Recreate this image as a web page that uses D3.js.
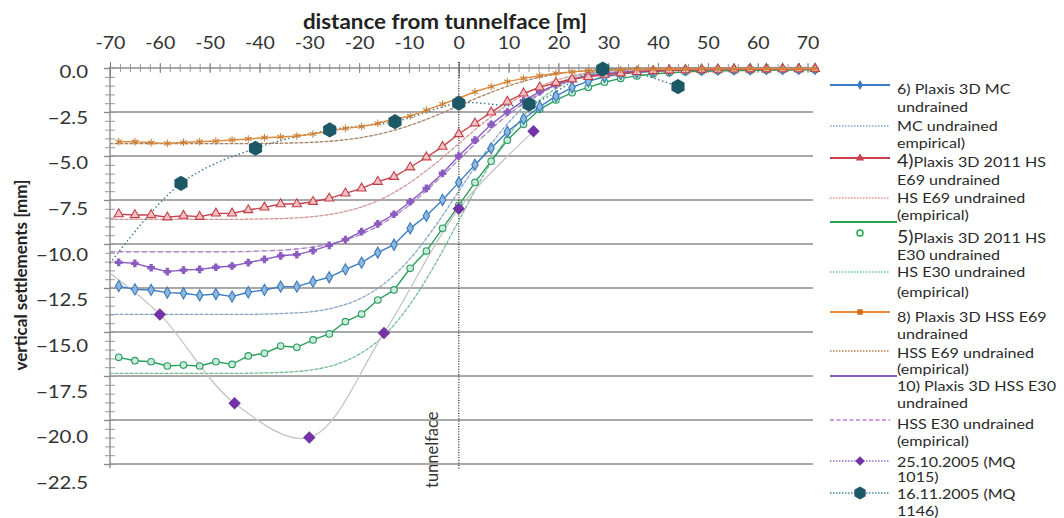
<!DOCTYPE html>
<html><head><meta charset="utf-8">
<script src="https://cdn.jsdelivr.net/npm/d3@7"></script>
<style>body{margin:0;background:#fff;} svg{display:block;font-family:Lato,"Open Sans",sans-serif;}</style>
</head><body><svg id="c" width="1064" height="518"></svg>
<script>
// ---------------- DATA ----------------
const xTickLabels = [-70,-60,-50,-40,-30,-20,-10,0,10,20,30,40,50,60,70];
const yTickLabels = [0,-2.5,-5,-7.5,-10,-12.5,-15,-17.5,-20,-22.5];

const modelX = [-68.25,-65,-61.75,-58.5,-55.25,-52,-48.75,-45.5,-42.25,-39,-35.75,-32.5,-29.25,-26,-22.75,-19.5,-16.25,-13,-9.75,-6.5,-3.25,0,3.25,6.5,9.75,13,16.25,19.5,22.75,26,29.25,32.5,35.75,39,42.25,45.5,48.75,52,55.25,58.5,61.75,65,68.25,71.5];
const mcUndrained = [-12.39,-12.58,-12.61,-12.76,-12.8,-12.92,-12.84,-12.99,-12.74,-12.61,-12.42,-12.42,-12.14,-11.89,-11.44,-11.06,-10.49,-10.04,-9.11,-8.4,-7.5,-6.5,-5.5,-4.56,-3.62,-2.9,-2.2,-1.6,-1.1,-0.75,-0.5,-0.35,-0.25,-0.2,-0.15,-0.12,-0.1,-0.09,-0.08,-0.07,-0.06,-0.06,-0.05,-0.05];
const hsE69 = [-8.3,-8.35,-8.35,-8.48,-8.39,-8.45,-8.26,-8.26,-8.07,-7.92,-7.73,-7.73,-7.6,-7.41,-7.12,-6.84,-6.46,-6.18,-5.64,-5.07,-4.47,-3.75,-3.14,-2.52,-1.91,-1.44,-1.1,-0.84,-0.64,-0.5,-0.38,-0.3,-0.22,-0.17,-0.14,-0.12,-0.1,-0.09,-0.08,-0.07,-0.07,-0.06,-0.06,-0.05];
const hsE30 = [-16.44,-16.63,-16.69,-16.93,-16.88,-16.93,-16.69,-16.84,-16.36,-16.21,-15.8,-15.87,-15.45,-15.11,-14.41,-13.98,-13.18,-12.61,-11.38,-10.4,-9.11,-7.8,-6.5,-5.3,-4.1,-3.2,-2.35,-1.82,-1.4,-1.1,-0.81,-0.59,-0.45,-0.34,-0.27,-0.22,-0.19,-0.17,-0.15,-0.14,-0.13,-0.12,-0.11,-0.1];
const hssE69 = [-4.19,-4.19,-4.24,-4.28,-4.22,-4.19,-4.15,-4.09,-4.03,-3.96,-3.92,-3.86,-3.75,-3.58,-3.43,-3.33,-3.14,-2.91,-2.73,-2.39,-2.05,-1.72,-1.35,-1.06,-0.78,-0.59,-0.44,-0.3,-0.22,-0.16,-0.12,-0.1,-0.08,-0.07,-0.06,-0.06,-0.05,-0.05,-0.05,-0.04,-0.04,-0.04,-0.04,-0.04];
const hssE30 = [-11.04,-11.1,-11.35,-11.57,-11.48,-11.44,-11.32,-11.25,-11.06,-10.87,-10.67,-10.6,-10.38,-10.08,-9.75,-9.3,-8.86,-8.31,-7.6,-6.84,-5.98,-5.0,-4.1,-3.2,-2.5,-1.85,-1.35,-0.95,-0.65,-0.45,-0.32,-0.24,-0.18,-0.15,-0.13,-0.11,-0.1,-0.09,-0.08,-0.08,-0.07,-0.07,-0.06,-0.06];

const empX = [-70,-65,-60,-55,-50,-45,-40,-35,-30,-25,-20,-15,-10,-5,0,5,10,15,20,25,30,35,40,45,50,55,60,65,70];
const mcEmp = [-14,-14,-14,-14,-14,-14,-13.99,-13.94,-13.86,-13.62,-13.13,-12.26,-10.91,-9.1,-7.0,-4.9,-3.09,-1.74,-0.87,-0.38,-0.14,-0.06,-0.01,0,0,0,0,0,0];
const hsE69Emp = [-8.6,-8.6,-8.6,-8.6,-8.6,-8.6,-8.58,-8.55,-8.46,-8.28,-7.94,-7.38,-6.55,-5.5,-4.3,-3.1,-2.05,-1.22,-0.66,-0.32,-0.14,-0.05,-0.02,0,0,0,0,0,0];
const hsE30Emp = [-17.35,-17.35,-17.35,-17.35,-17.35,-17.35,-17.33,-17.29,-17.17,-16.88,-16.27,-15.2,-13.52,-11.28,-8.68,-6.07,-3.83,-2.15,-1.08,-0.47,-0.17,-0.07,-0.02,0,0,0,0,0,0];
const hssE69Emp = [-4.3,-4.3,-4.3,-4.3,-4.3,-4.3,-4.29,-4.27,-4.23,-4.14,-3.97,-3.69,-3.28,-2.75,-2.15,-1.55,-1.02,-0.61,-0.33,-0.16,-0.07,-0.03,-0.01,0,0,0,0,0,0];
const hssE30Emp = [-10.44,-10.44,-10.44,-10.44,-10.44,-10.44,-10.4,-10.34,-10.2,-9.94,-9.49,-8.78,-7.81,-6.58,-5.22,-3.86,-2.63,-1.66,-0.95,-0.5,-0.24,-0.1,-0.04,-0.01,0,0,0,0,0];

const mq1015X = [-60,-45,-30,-15,0,15];
const mq1015Y = [-14.0,-19.05,-21.0,-15.05,-8.0,-3.6];
const mq1015TrendX = [-70,-60,-45,-30,-15,0,15];
const mq1015TrendY = [-11.66,-14.0,-19.05,-21.0,-15.05,-8.0,-3.6];
const mq1146X = [-55.75,-40.8,-25.9,-12.8,0,14.1,28.9,44];
const mq1146Y = [-6.55,-4.56,-3.52,-3.05,-2.0,-2.06,-0.06,-1.06];
const mq1146TrendX = [-70,-55.75,-40.8,-25.9,-12.8,0,14.1,28.9,44];
const mq1146TrendY = [-11.1,-6.55,-4.56,-3.52,-3.05,-2.0,-2.06,-0.06,-1.06];

// ---------------- DRAWING ----------------
const svg = d3.select("#c");
const x = d3.scaleLinear().domain([-70,71.5]).range([110,815]);
const y = d3.scaleLinear().domain([0,-22.5]).range([68,464]);
const yLab = d3.scaleLinear().domain([0,-22.5]).range([72,483]);

// grid lines
svg.append("g").selectAll("line").data(yTickLabels.filter(d=>d!==0)).join("line")
  .attr("x1",x(-70)).attr("x2",813).attr("y1",d=>y(d)).attr("y2",d=>y(d))
  .attr("stroke","#8c8c8c").attr("stroke-width",1.6);

// x axis on top (minor crossing ticks)
const xMinor = d3.range(-70,71,2);
const gxm = svg.append("g").attr("transform","translate(0,72)")
  .call(d3.axisTop(x).tickValues(xMinor).tickSize(8).tickFormat(""));
gxm.select(".domain").remove();
gxm.selectAll("line").attr("stroke","#9a9a9a");
const gxM = svg.append("g").attr("transform","translate(0,73)")
  .call(d3.axisTop(x).tickValues(xTickLabels).tickSize(10).tickFormat(""));
gxM.select(".domain").remove();
gxM.selectAll("line").attr("stroke","#888");
svg.append("g").attr("transform","translate(0,78)")
  .call(d3.axisTop(x).tickValues([-70,0]).tickSize(16).tickFormat(""))
  .call(g=>g.select(".domain").remove()).selectAll("line").attr("stroke","#777");
svg.append("line").attr("x1",x(-70)).attr("x2",815).attr("y1",68).attr("y2",68).attr("stroke","#8c8c8c").attr("stroke-width",1.4);
// x tick labels
const gxl = svg.append("g").attr("transform","translate(0,52)")
  .call(d3.axisTop(x).tickValues(xTickLabels).tickSize(0).tickFormat(d=>d));
gxl.select(".domain").remove();
gxl.selectAll("text").attr("font-size",17).attr("fill","#333").attr("font-family","Lato, sans-serif")
  .attr("transform","scale(1.15,1)");

// y axis
const yMinor = d3.range(0,-22.51,-0.5);
const gym = svg.append("g").attr("transform","translate(115,0)")
  .call(d3.axisLeft(y).tickValues(yMinor).tickSize(10).tickFormat(""));
gym.select(".domain").remove();
gym.selectAll("line").attr("stroke","#999");
svg.append("line").attr("x1",110).attr("x2",110).attr("y1",66).attr("y2",468).attr("stroke","#8c8c8c").attr("stroke-width",1.4);
const gyM = svg.append("g").attr("transform","translate(110,0)")
  .call(d3.axisLeft(y).tickValues(yTickLabels).tickSize(6).tickFormat(""));
gyM.select(".domain").remove();
gyM.selectAll("line").attr("stroke","#888").attr("stroke-width",1.4);
const gyl = svg.append("g").attr("transform","translate(88,0)")
  .call(d3.axisLeft(yLab).tickValues(yTickLabels).tickSize(0).tickFormat(d3.format(".1f")));
gyl.select(".domain").remove();
gyl.selectAll("text").attr("font-size",17).attr("fill","#333").attr("text-anchor","end").attr("x",0)
  .attr("font-family","Lato, sans-serif").attr("transform","scale(1.2,1)");

// titles
svg.append("text").attr("transform","translate(445,29) scale(1.12,1)").attr("text-anchor","middle")
  .attr("font-weight","bold").attr("font-size",20).attr("fill","#222").text("distance from tunnelface [m]");
svg.append("text").attr("transform","translate(27,275) rotate(-90)").attr("text-anchor","middle")
  .attr("font-weight","bold").attr("font-size",17).attr("fill","#222").text("vertical settlements [mm]");

// zero line
svg.append("line").attr("x1",x(0)).attr("x2",x(0)).attr("y1",62).attr("y2",470)
  .attr("stroke","#444").attr("stroke-width",1.5).attr("stroke-dasharray","1,1.6");
svg.append("text").attr("transform",`translate(${x(0)-21},488) rotate(-90)`)
  .attr("font-size",16.5).attr("fill","#333").text("tunnelface");

const lineOf = (xs, curve) => d3.line().x((d,i)=>x(xs[i])).y(d=>y(d)).curve(curve||d3.curveLinear);

// empirical curves
const emp = [
  {v:hsE30Emp, c:"#62c98a", dash:"3,2"},
  {v:mcEmp, c:"#7aa9d6", dash:"3,2"},
  {v:hsE69Emp, c:"#e88c8c", dash:"3,2"},
  {v:hssE30Emp, c:"#b27ad0", dash:"5,3"},
  {v:hssE69Emp, c:"#b07a50", dash:"3,2"},
];
emp.forEach(e=>{
  svg.append("path").attr("d",lineOf(empX,d3.curveMonotoneX)(e.v))
    .attr("fill","none").attr("stroke",e.c).attr("stroke-width",1.3).attr("stroke-dasharray",e.dash);
  svg.append("path").attr("d",lineOf(empX,d3.curveMonotoneX)(e.v))
    .attr("fill","none").attr("stroke","#999").attr("stroke-width",0.8).attr("stroke-dasharray",e.dash).attr("stroke-dashoffset",2.5).attr("opacity",0.7);
});

// measurement trend curves
svg.append("path").attr("d",lineOf(mq1015TrendX,d3.curveCatmullRom.alpha(0.5))(mq1015TrendY))
  .attr("fill","none").attr("stroke","#c4c4c4").attr("stroke-width",1.3);
svg.append("path").attr("d",lineOf(mq1146TrendX,d3.curveCatmullRom.alpha(0.5))(mq1146TrendY))
  .attr("fill","none").attr("stroke","#3a7a88").attr("stroke-width",1.4).attr("stroke-dasharray","1.5,2.5");

// model series
const hexType = {draw(ctx,size){const r=Math.sqrt(size/(1.5*Math.sqrt(3)));for(let i=0;i<6;i++){const a=i*Math.PI/3+Math.PI/6;const px=r*Math.cos(a),py=r*Math.sin(a);i?ctx.lineTo(px,py):ctx.moveTo(px,py);}ctx.closePath();}};
const models = [
  {v:hsE30, c:"#2aa05a", sym:d3.symbolCircle, size:34, fill:"#c9ecd6", stroke:"#2a9a66"},
  {v:mcUndrained, c:"#3a7cc2", sym:d3.symbolDiamond, size:36, fill:"#8cb8e2", stroke:"#3a78b8"},
  {v:hssE30, c:"#8a5cc0", sym:d3.symbolCross, size:24, fill:"#8a5cc0", stroke:"#8a5cc0"},
  {v:hsE69, c:"#c7404c", sym:d3.symbolTriangle, size:36, fill:"#f4c0c0", stroke:"#c0404a"},
  {v:hssE69, c:"#e08a3a", sym:d3.symbolAsterisk, size:40, fill:"none", stroke:"#c8803a"},
];
models.forEach(m=>{
  svg.append("path").attr("d",lineOf(modelX)(m.v)).attr("fill","none").attr("stroke",m.c).attr("stroke-width",1.4);
  svg.append("g").selectAll("path").data(m.v).join("path")
    .attr("transform",(d,i)=>`translate(${x(modelX[i])},${y(d)})`)
    .attr("d",d3.symbol(m.sym,m.size)).attr("fill",m.fill).attr("stroke",m.stroke).attr("stroke-width",1.1);
});

// measurement markers
svg.append("g").selectAll("path").data(mq1015Y).join("path")
  .attr("transform",(d,i)=>`translate(${x(mq1015X[i])},${y(d)}) rotate(45)`)
  .attr("d",d3.symbol(d3.symbolSquare,78)).attr("fill","#7433a6");
svg.append("g").selectAll("path").data(mq1146Y).join("path")
  .attr("transform",(d,i)=>`translate(${x(mq1146X[i])},${y(d)})`)
  .attr("d",d3.symbol(hexType,150)).attr("fill","#1d5867");

// ---------------- LEGEND ----------------
const legendItems = [
  {lines:["6) Plaxis 3D MC","undrained"], c:"#3a7cc2", dash:null, sym:d3.symbolDiamond, fill:"#3a7cc2", size:30},
  {lines:["MC undrained","empirical)"], c:"#7aa9d6", dash:"1.5,1.5"},
  {lines:["4)","Plaxis 3D 2011 HS","E69 undrained"], big:true, c:"#c7404c", dash:null, sym:d3.symbolTriangle, fill:"#c7404c", size:30},
  {lines:["HS E69 undrained","(empirical)"], c:"#f08a8a", dash:"1.5,1.5"},
  {lines:["5)","Plaxis 3D 2011 HS","E30 undrained"], big:true, c:"#22a84a", dash:null, green:true},
  {lines:["HS E30 undrained","(empirical)"], c:"#62d08e", dash:"1.5,1.5"},
  {lines:["8) Plaxis 3D HSS E69","undrained"], c:"#ef8a3a", dash:null, sym:d3.symbolSquare, fill:"#d46a1a", size:30},
  {lines:["HSS E69 undrained","(empirical)"], c:"#c08050", dash:"1.5,1.5"},
  {lines:["10) Plaxis 3D HSS E30","undrained"], c:"#8a5cc0", dash:null, purple:true},
  {lines:["HSS E30 undrained","(empirical)"], c:"#c07ad8", dash:"4,2.5"},
  {lines:["25.10.2005 (MQ","1015)"], c:"#9a6ad0", dash:"1.5,1.5", diamond:true},
  {lines:["16.11.2005 (MQ","1146)"], c:"#4a8a98", dash:"1.5,1.5", hex:true},
];
const legSymY = [85,126,158,198,222,272,312,351,376,420,461,493];
const legText1 = [89,126,162,198,238,272,317,353,386,424,462,494];
const legText2 = [107,143,180,215,255,292,334,369,403,441,477,511];
const lg = svg.append("g");
const addText = (cy, fn) => {
  const t = lg.append("text").attr("transform",`translate(897,${cy+5}) scale(1.15,1)`)
    .attr("font-size",14).attr("fill","#2a2a2a");
  fn(t);
};
legendItems.forEach((it,i)=>{
  const ly = legSymY[i];
  const x2 = (it.green||it.purple) ? 897 : 890;
  lg.append("line").attr("x1",830).attr("x2",x2).attr("y1",ly).attr("y2",ly)
    .attr("stroke",it.c).attr("stroke-width",it.dash?1.3:1.8).attr("stroke-dasharray",it.dash);
  if(it.sym) lg.append("path").attr("transform",`translate(860,${ly})`).attr("d",d3.symbol(it.sym,it.size)).attr("fill",it.fill);
  if(it.green) lg.append("circle").attr("cx",860).attr("cy",233).attr("r",3).attr("fill","none").attr("stroke","#22a84a").attr("stroke-width",1.5);
  if(it.diamond) lg.append("path").attr("transform",`translate(860,${ly}) rotate(45)`).attr("d",d3.symbol(d3.symbolSquare,45)).attr("fill","#7433a6");
  if(it.hex) lg.append("path").attr("transform",`translate(860,${ly})`).attr("d",d3.symbol(hexType,110)).attr("fill","#1d5867");
  if(it.big){
    addText(legText1[i], t=>{ t.append("tspan").attr("font-size",17).text(it.lines[0]); t.append("tspan").text(it.lines[1]); });
    addText(legText2[i], t=>t.text(it.lines[2]));
  } else {
    addText(legText1[i], t=>t.text(it.lines[0]));
    addText(legText2[i], t=>t.text(it.lines[1]));
  }
});
</script></body></html>
